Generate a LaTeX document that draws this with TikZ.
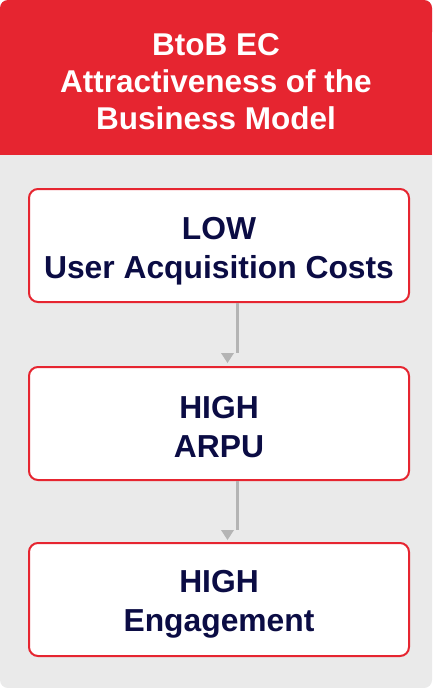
\documentclass[tikz,border=0pt]{standalone}
\usepackage{fontspec}
\setmainfont{Liberation Sans}
\definecolor{hdrred}{HTML}{E62530}
\definecolor{panelgray}{HTML}{EAEAEA}
\definecolor{navy}{HTML}{0B0C44}
\definecolor{arrowgray}{HTML}{B4B4B4}
\begin{document}
\begin{tikzpicture}[x=1pt,y=-1pt,
  stepbox/.style={draw=hdrred, line width=2pt, fill=white, rounded corners=9pt,
    minimum width=380pt, minimum height=113pt, anchor=north west, inner sep=0pt},
  steptext/.style={align=center, text=navy, font=\bfseries\fontsize{31.8}{39}\selectfont},
  conn/.style={draw=arrowgray, line width=3pt},
  tip/.style={fill=arrowgray}]
\useasboundingbox (0,0) rectangle (432,688);
\fill[panelgray, rounded corners=8pt] (0,0) rectangle (432,688);
\fill[hdrred, rounded corners=8pt] (0,0) rectangle (432,40);
\fill[hdrred] (0,20) rectangle (432,155);
\node[text=white, align=center, font=\bfseries\fontsize{31.5}{37}\selectfont] (title) at (216,82)
  {BtoB EC\\Attractiveness of the\\Business Model};
\node[stepbox] (b1) at (28,188) {};
\node[steptext] (t1) at ([yshift=-6pt]b1.center) {LOW\\User Acquisition Costs};
\node[stepbox] (b2) at (28,366) {};
\node[steptext] (t2) at ([yshift=-4pt]b2.center) {HIGH\\ARPU};
\node[stepbox] (b3) at (28,542) {};
\node[steptext] (t3) at ([yshift=-5pt]b3.center) {HIGH\\Engagement};
\coordinate (e1) at (237,353);
\coordinate (e2) at (237,530);
\draw[conn] (b1.south -| e1) -- (e1);
\draw[conn] (b2.south -| e2) -- (e2);
\fill[tip] (221,353) -- (234,353) -- (227.5,363) -- cycle;
\fill[tip] (221,530) -- (234,530) -- (227.5,540) -- cycle;
\end{tikzpicture}
\end{document}
